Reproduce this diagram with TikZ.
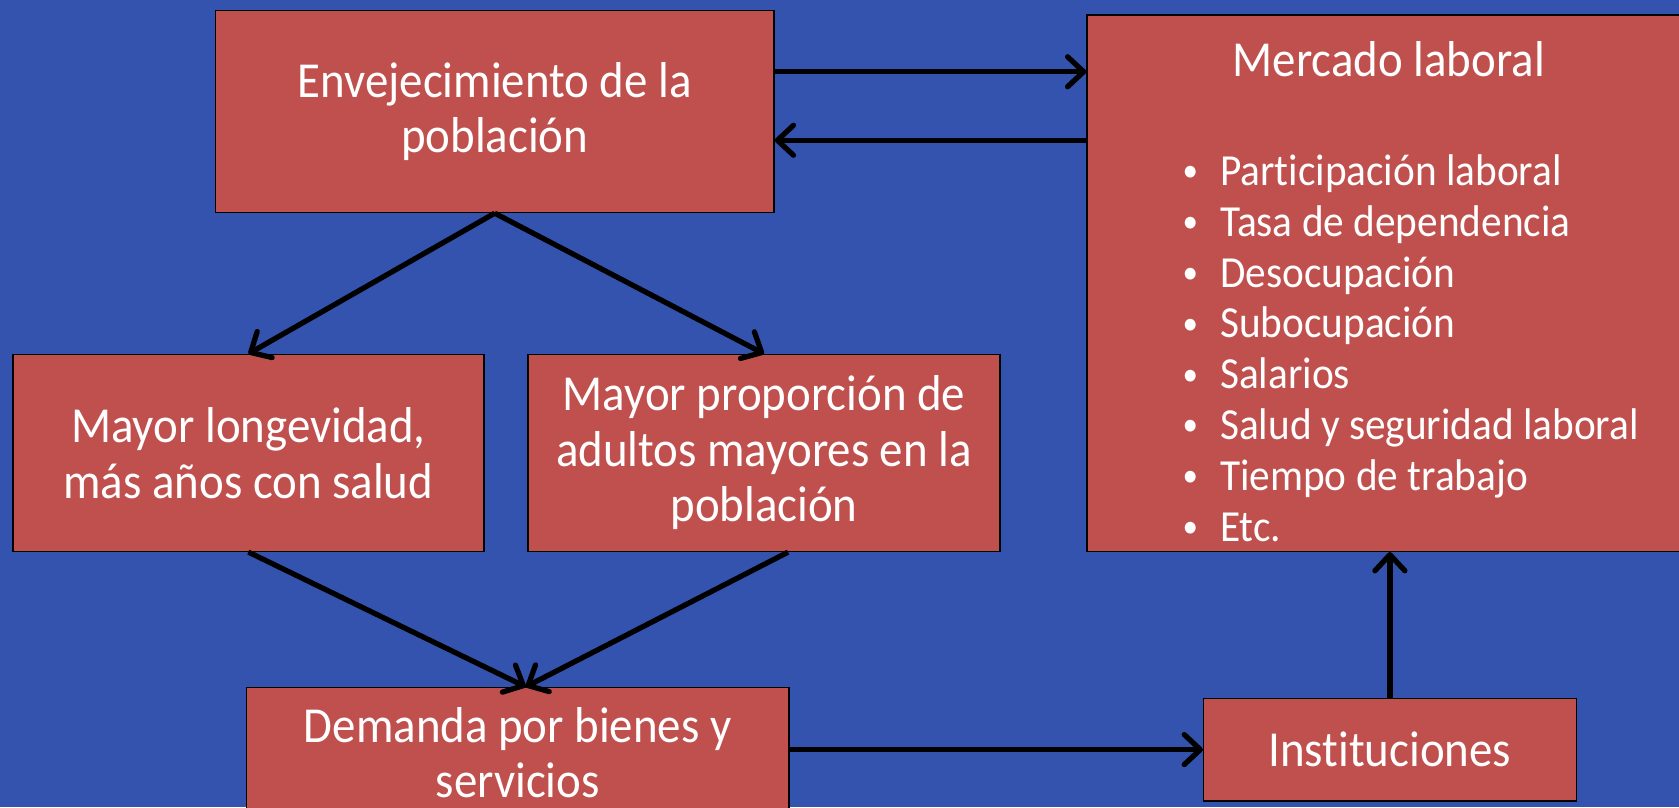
\documentclass[tikz,border=0pt]{standalone}
\usepackage{fontspec}
\setmainfont[FakeStretch=0.93,Ligatures={NoCommon,NoContextual},RawFeature=-calt]{Carlito}
\usetikzlibrary{arrows.meta}
\definecolor{fondo}{RGB}{52,83,174}
\definecolor{rojocaja}{RGB}{192,80,77}
\newcommand{\punto}{\raisebox{0.08em}{\scalebox{0.75}{\textbullet}}\hspace{0.5em}}

\begin{document}
\begin{tikzpicture}[x=0.02cm,y=-0.02cm,
	caja/.style={draw=black,line width=0.7pt,fill=rojocaja,text=white,align=center,inner sep=0pt,font=\fontsize{26.8}{29.5}\selectfont},
	flecha/.style={line width=2.8pt,-{Straight Barb[length=3mm,width=5.6mm,round]}}]
	\fill[fondo] (0,0) rectangle (1568,754);
	\useasboundingbox (0,0) rectangle (1568,754);
	% cajas
	\node[caja,minimum width=10.44cm,minimum height=3.78cm] (envej) at (462,104) {Envejecimiento de la\\población};
	\node[caja,minimum width=11.7cm,minimum height=10.02cm] (mercado) at (1307.5,264.5) {};
	\node[text=white,font=\fontsize{26.8}{29.5}\selectfont] (titulo) at (1297,55) {Mercado laboral};
	\node[text=white,align=left,anchor=west,inner sep=0pt,font=\fontsize{23.6}{27}\selectfont] (lista) at (1104,325) {\punto Part{}icipación laboral\\\punto Tasa de dependencia\\\punto Desocupación\\\punto Subocupación\\\punto Salarios\\\punto Salud y seguridad laboral\\\punto Tiempo de trabajo\\\punto Etc.};
	\node[caja,minimum width=8.8cm,minimum height=3.68cm] (longev) at (232,423) {Mayor longevidad,\\más años con salud};
	\node[caja,minimum width=8.82cm,minimum height=3.68cm] (proporc) at (713.5,423) {Mayor proporción de\\adultos mayores en la\\población};
	\node[caja,minimum width=10.14cm,minimum height=2.44cm] (demanda) at (483.5,703) {Demanda por bienes y\\servicios};
	\node[caja,minimum width=6.96cm,minimum height=1.92cm] (instit) at (1298,700) {Instituciones};
	% flechas
	\coordinate (ida) at ([yshift=0.74cm]envej.east);
	\coordinate (vuelta) at ([yshift=-0.54cm]mercado.west |- envej.east);
	\draw[flecha] (ida) -- (ida -| mercado.west);
	\draw[flecha] (vuelta) -- (vuelta -| envej.east);
	\draw[flecha] (envej.south) -- (longev.north);
	\draw[flecha] (envej.south) -- (proporc.north);
	\draw[flecha] (longev.south) -- ([xshift=0.15cm]demanda.north);
	\draw[flecha] ([xshift=0.45cm]proporc.south) -- ([xshift=0.15cm]demanda.north);
	\draw[flecha] (demanda.east |- instit.west) -- (instit.west);
	\draw[flecha] (instit.north) -- (instit.north |- mercado.south);
\end{tikzpicture}
\end{document}
